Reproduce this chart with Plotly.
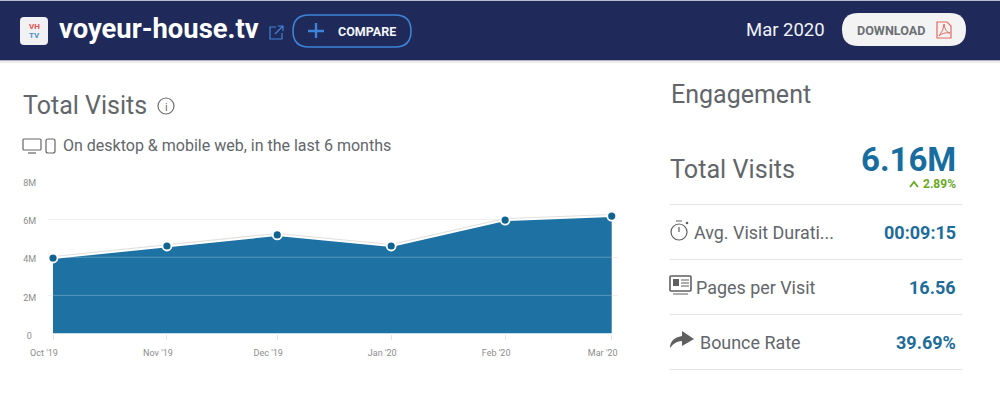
import plotly.graph_objects as go

W = 1000
H = 417

months = ["2019-10-01", "2019-11-01", "2019-12-01", "2020-01-01", "2020-02-01", "2020-03-01"]
month_labels = ["Oct '19", "Nov '19", "Dec '19", "Jan '20", "Feb '20", "Mar '20"]
visits = [3960000, 4590000, 5170000, 4590000, 5950000, 6160000]
y_ticks = [0, 2000000, 4000000, 6000000, 8000000]
y_tick_labels = ["0", "2M", "4M", "6M", "8M"]
inner_grid = [2000000, 4000000]

row_names = ["Avg. Visit Durati...", "Pages per Visit", "Bounce Rate"]
row_values = ["00:09:15", "16.56", "39.69%"]

NAVY = "#1f2a5b"
BLUE = "#1d72a3"
DARK_BLUE = "#0f6592"
GREY = "#62666a"
LINK = "#3d84d6"
FONT = "Roboto"


def pill(x0, y0, x1, y1, r):
    return (
        f"M {x0 + r} {y0} L {x1 - r} {y0} Q {x1} {y0} {x1} {y0 + r} "
        f"L {x1} {y1 - r} Q {x1} {y1} {x1 - r} {y1} L {x0 + r} {y1} "
        f"Q {x0} {y1} {x0} {y1 - r} L {x0} {y0 + r} Q {x0} {y0} {x0 + r} {y0} Z"
    )


shapes = []
annotations = []

# page furniture is placed in screen pixels through a hidden x2/y2 pair
REF = dict(xref="x2", yref="y2")


def rect(x0, y0, x1, y1, fill, opacity=1):
    shapes.append(dict(type="rect", x0=x0, x1=x1, y0=y0, y1=y1, fillcolor=fill, opacity=opacity,
                       line=dict(width=0), layer="above", **REF))


def draw(spec, color=None, fill=None, width=1.2):
    shapes.append(dict(type="path", path=spec, fillcolor=fill or "rgba(0,0,0,0)", layer="above",
                       line=dict(color=color or "rgba(0,0,0,0)", width=width if color else 0), **REF))


def circle(cx, cy, r, color=None, fill=None, width=1.2):
    shapes.append(dict(type="circle", x0=cx - r, x1=cx + r, y0=cy - r, y1=cy + r,
                       fillcolor=fill or "rgba(0,0,0,0)", layer="above",
                       line=dict(color=color or "rgba(0,0,0,0)", width=width if color else 0), **REF))


def label(x, y, text, size, color=GREY, anchor="left", bold=False):
    annotations.append(dict(x=x, y=y, text=f"<b>{text}</b>" if bold else text,
                            showarrow=False, xanchor=anchor, yanchor="middle",
                            font=dict(family=FONT, size=size, color=color),
                            borderpad=0, borderwidth=0, **REF))


# header bar
rect(0, 0, 1000, 60, NAVY)
rect(0, 0, 1000, 1, "#b9bdcb")
rect(0, 60, 1000, 61, "#8f93a0", 0.7)
rect(0, 61, 1000, 63, "#c8c8c8", 0.35)

# logo
draw(pill(20, 17, 48, 45, 4), fill="#f1f1f3")
label(34, 26, "VH", 8, "#e2504f", "center", True)
label(34, 35.5, "TV", 8, "#4a8fd0", "center", True)
label(59, 29, "voyeur-house.tv", 27.4, "#ffffff", bold=True)

# external link icon
draw("M 276 27 L 270 27 L 270 39 L 282 39 L 282 33", color=LINK)
draw("M 275 34 L 283 26 M 278 26 L 283 26 L 283 31", color=LINK)

# compare button
draw(pill(293, 15, 411, 47, 16), color=LINK, width=1.6)
draw("M 316 23 L 316 38 M 308 31 L 324 31", color=LINK, width=2.4)
label(338, 31, "COMPARE", 12.5, "#f4f6fa", bold=True)

# date + download
label(746, 30, "Mar 2020", 18.5, "#f0f2f6")
draw(pill(842, 13, 966, 46, 16.5), fill="#f3f3f3")
label(857, 30, "DOWNLOAD", 12.6, "#6c6f73", bold=True)
draw("M 937 22 L 947 22 L 951 26 L 951 38 L 937 38 Z", color="#e36a63")
draw("M 939 36 Q 944 30 944 24 Q 945 32 950 33 Q 943 32 939 36 Z", color="#e36a63", width=1)

# left panel heading
label(23, 105, "Total Visits", 25, GREY)
circle(166, 106, 8, color="#6d6d6d")
label(166, 107, "i", 11, "#6d6d6d", "center")
draw(pill(23, 139, 41, 150, 1), color="#666666")
draw("M 28 153 L 36 153", color="#666666")
draw(pill(46, 139, 55, 153, 2), color="#666666")
label(63, 145, "On desktop &amp; mobile web, in the last 6 months", 16, GREY)

# right panel
label(671, 94.5, "Engagement", 25, GREY)
label(670, 169, "Total Visits", 25.2, GREY)
label(956, 159, "6.16M", 33, "#176d9f", "right", True)
label(956, 184, "2.89%", 12, "#69a91f", "right", True)
draw("M 910 187 L 914 182 L 918 187", color="#69a91f", width=1.8)

for y in [204, 259, 314, 369]:
    rect(670, y, 962, y + 1, "#e4e4e4")

row_y = [232, 287, 342]
row_x = [694, 696, 700]
for name, value, x, y in zip(row_names, row_values, row_x, row_y):
    label(x, y, name, 17.9, GREY)
    label(956, y, value, 18, "#1d6c9a", "right", True)

# stopwatch
circle(679, 232, 8, color="#5f5f5f")
draw("M 679 232 L 679 227 M 676 221 L 682 221", color="#5f5f5f")
circle(687, 223, 1.3, fill="#5f5f5f")
# pages icon
draw(pill(670, 276, 691, 291, 1), color="#5f5f5f", width=1.6)
rect(673, 279, 679, 286, "#5f5f5f")
draw("M 681 280 L 689 280 M 681 283 L 689 283 M 681 286 L 689 286 M 673 294 L 688 294", color="#5f5f5f")
# bounce arrow
draw("M 670 348 Q 670 338 682 336 L 682 331 L 694 339 L 682 346 L 682 341 Q 675 341 670 348 Z", fill="#5f5f5f")

fig = go.Figure()

# pale edge sits behind the area
fig.add_trace(go.Scatter(x=months, y=visits, mode="lines",
                         line=dict(color="#e3dfdc", width=4), hoverinfo="skip"))
fig.add_trace(go.Scatter(x=months, y=visits, mode="lines", fill="tozeroy", fillcolor=BLUE,
                         line=dict(color="#ffffff", width=2), hoverinfo="skip"))
# gridlines show through the area in the original
for g in inner_grid:
    fig.add_trace(go.Scatter(x=months, y=[g] * len(months), mode="lines",
                             line=dict(color="rgba(255,255,255,0.25)", width=1), hoverinfo="skip"))
fig.add_trace(go.Scatter(x=months, y=visits, mode="markers", cliponaxis=False,
                         marker=dict(color=DARK_BLUE, size=9, line=dict(color="#ffffff", width=1.8)),
                         hovertemplate="%{x}: %{y}<extra></extra>"))

fig.update_layout(
    width=W,
    height=H,
    margin=dict(l=0, r=0, t=0, b=0, pad=0, autoexpand=False),
    paper_bgcolor="#ffffff",
    plot_bgcolor="rgba(0,0,0,0)",
    showlegend=False,
    shapes=shapes,
    annotations=annotations,
    font=dict(family=FONT, color="#8c8c8c", size=9),
    xaxis=dict(
        domain=[48 / W, 618 / W],
        anchor="y",
        type="date",
        range=["2019-09-29 15:20", "2020-03-02 17:00"],
        tickmode="array",
        tickvals=months,
        ticktext=month_labels,
        # labels sit left of their ticks in the original
        ticklabelshift=-9,
        ticklabelstandoff=6,
        ticks="outside",
        ticklen=5,
        tickcolor="#e2e2e2",
        showgrid=False,
        zeroline=False,
        showline=False,
        tickfont=dict(family=FONT, size=9, color="#8c8c8c"),
    ),
    yaxis=dict(
        domain=[1 - 333.5 / H, 1 - 181 / H],
        anchor="x",
        range=[0, 8000000],
        tickmode="array",
        tickvals=y_ticks,
        ticktext=[t if t != "0" else "0\u00a0\u00a0" for t in y_tick_labels],
        ticklabelshift=2,
        ticks="outside",
        ticklen=9,
        tickcolor="rgba(0,0,0,0)",
        showgrid=True,
        gridcolor="#f0f0f0",
        gridwidth=1,
        zeroline=False,
        showline=False,
        tickfont=dict(family=FONT, size=9, color="#8c8c8c"),
    ),
    xaxis2=dict(domain=[0, 1], range=[0, W], anchor="y2", visible=False),
    yaxis2=dict(domain=[0, 1], range=[H, 0], anchor="x2", visible=False),
)

fig.write_html("out.html", config=dict(displayModeBar=False),
               post_script="document.body.style.margin='0';document.body.style.overflow='hidden';")
